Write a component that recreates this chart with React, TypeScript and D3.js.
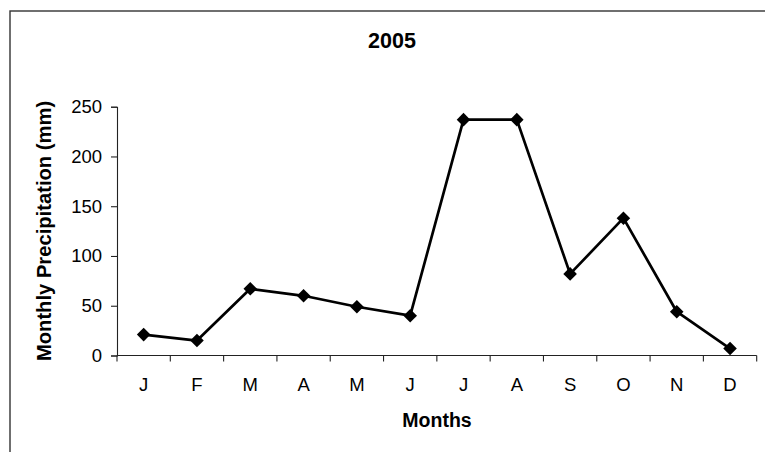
import React, { useEffect, useRef } from "react";
import * as d3 from "d3";

const months = ["J", "F", "M", "A", "M", "J", "J", "A", "S", "O", "N", "D"];
const precipitation = [21, 15, 67, 60, 49, 40, 237, 237, 82, 138, 44, 7];
const yTicks = [0, 50, 100, 150, 200, 250];

const WIDTH = 765;
const HEIGHT = 452;

const PrecipChart: React.FC = () => {
  const ref = useRef<SVGSVGElement | null>(null);

  useEffect(() => {
    if (!ref.current) return;
    const svg = d3.select(ref.current);
    svg.selectAll("*").remove();

    const left = 117;
    const right = 756.7;
    const top = 106.7;
    const bottom = 355.5;
    const font = "Arial, 'Liberation Sans', sans-serif";

    // outer chart border, runs off the right and bottom edges
    svg
      .append("rect")
      .attr("x", 10)
      .attr("y", 11)
      .attr("width", 780)
      .attr("height", 480)
      .attr("fill", "#fff")
      .attr("stroke", "#333")
      .attr("stroke-width", 1.4);

    const idx = months.map((_, i) => i);
    const x = d3.scaleBand<number>().domain(idx).range([left, right]);
    const y = d3.scaleLinear().domain([0, 250]).range([bottom, top]);

    // y axis
    const yAxis = svg
      .append("g")
      .attr("transform", `translate(${left},0)`)
      .call(
        d3
          .axisLeft(y)
          .tickValues(yTicks)
          .tickSize(6)
          .tickPadding(9)
          .tickFormat(d3.format("d"))
      );
    yAxis.select(".domain").attr("stroke", "#222").attr("stroke-width", 1.1);
    yAxis.selectAll(".tick line").attr("stroke", "#222").attr("stroke-width", 1.1);
    yAxis
      .selectAll("text")
      .attr("font-family", font)
      .attr("font-size", 18.5)
      .attr("fill", "#000");

    // x axis: ticks on band edges
    const xAxis = svg.append("g").attr("transform", `translate(0,${bottom})`);
    xAxis
      .append("line")
      .attr("x1", left)
      .attr("x2", right)
      .attr("stroke", "#222")
      .attr("stroke-width", 1.1);
    const edges = [...idx.map((i) => x(i) as number), right];
    xAxis
      .selectAll("line.tk")
      .data(edges)
      .enter()
      .append("line")
      .attr("class", "tk")
      .attr("x1", (d) => d)
      .attr("x2", (d) => d)
      .attr("y1", 0)
      .attr("y2", 6)
      .attr("stroke", "#222")
      .attr("stroke-width", 1.1);
    xAxis
      .selectAll("text")
      .data(idx)
      .enter()
      .append("text")
      .attr("x", (i) => (x(i) as number) + x.bandwidth() / 2)
      .attr("y", 35)
      .attr("text-anchor", "middle")
      .attr("font-family", font)
      .attr("font-size", 18.5)
      .text((i) => months[i]);

    // series line
    const line = d3
      .line<number>()
      .x((v, i) => (x(i) as number) + x.bandwidth() / 2)
      .y((v) => y(v));
    svg
      .append("path")
      .datum(precipitation)
      .attr("d", line)
      .attr("fill", "none")
      .attr("stroke", "#000")
      .attr("stroke-width", 2.7)
      .attr("stroke-linejoin", "round");

    // diamond markers
    const diamond = d3.symbol().type(d3.symbolSquare).size(92);
    svg
      .selectAll("path.marker")
      .data(precipitation)
      .enter()
      .append("path")
      .attr("class", "marker")
      .attr("d", diamond)
      .attr(
        "transform",
        (v, i) =>
          `translate(${(x(i) as number) + x.bandwidth() / 2},${y(v)}) rotate(45)`
      )
      .attr("fill", "#000");

    // titles
    svg
      .append("text")
      .attr("x", 392)
      .attr("y", 48)
      .attr("text-anchor", "middle")
      .attr("font-family", font)
      .attr("font-weight", "bold")
      .attr("font-size", 21.5)
      .text("2005");

    svg
      .append("text")
      .attr("x", 437)
      .attr("y", 427)
      .attr("text-anchor", "middle")
      .attr("font-family", font)
      .attr("font-weight", "bold")
      .attr("font-size", 19.5)
      .text("Months");

    svg
      .append("text")
      .attr("transform", `translate(51,231) rotate(-90)`)
      .attr("text-anchor", "middle")
      .attr("font-family", font)
      .attr("font-weight", "bold")
      .attr("font-size", 20.2)
      .text("Monthly Precipitation (mm)");
  }, []);

  return (
    <svg
      ref={ref}
      width={WIDTH}
      height={HEIGHT}
      style={{ position: "absolute", left: 0, top: 0, background: "#fff" }}
    ></svg>
  );
};

export default function App() {
  return <PrecipChart />;
}
